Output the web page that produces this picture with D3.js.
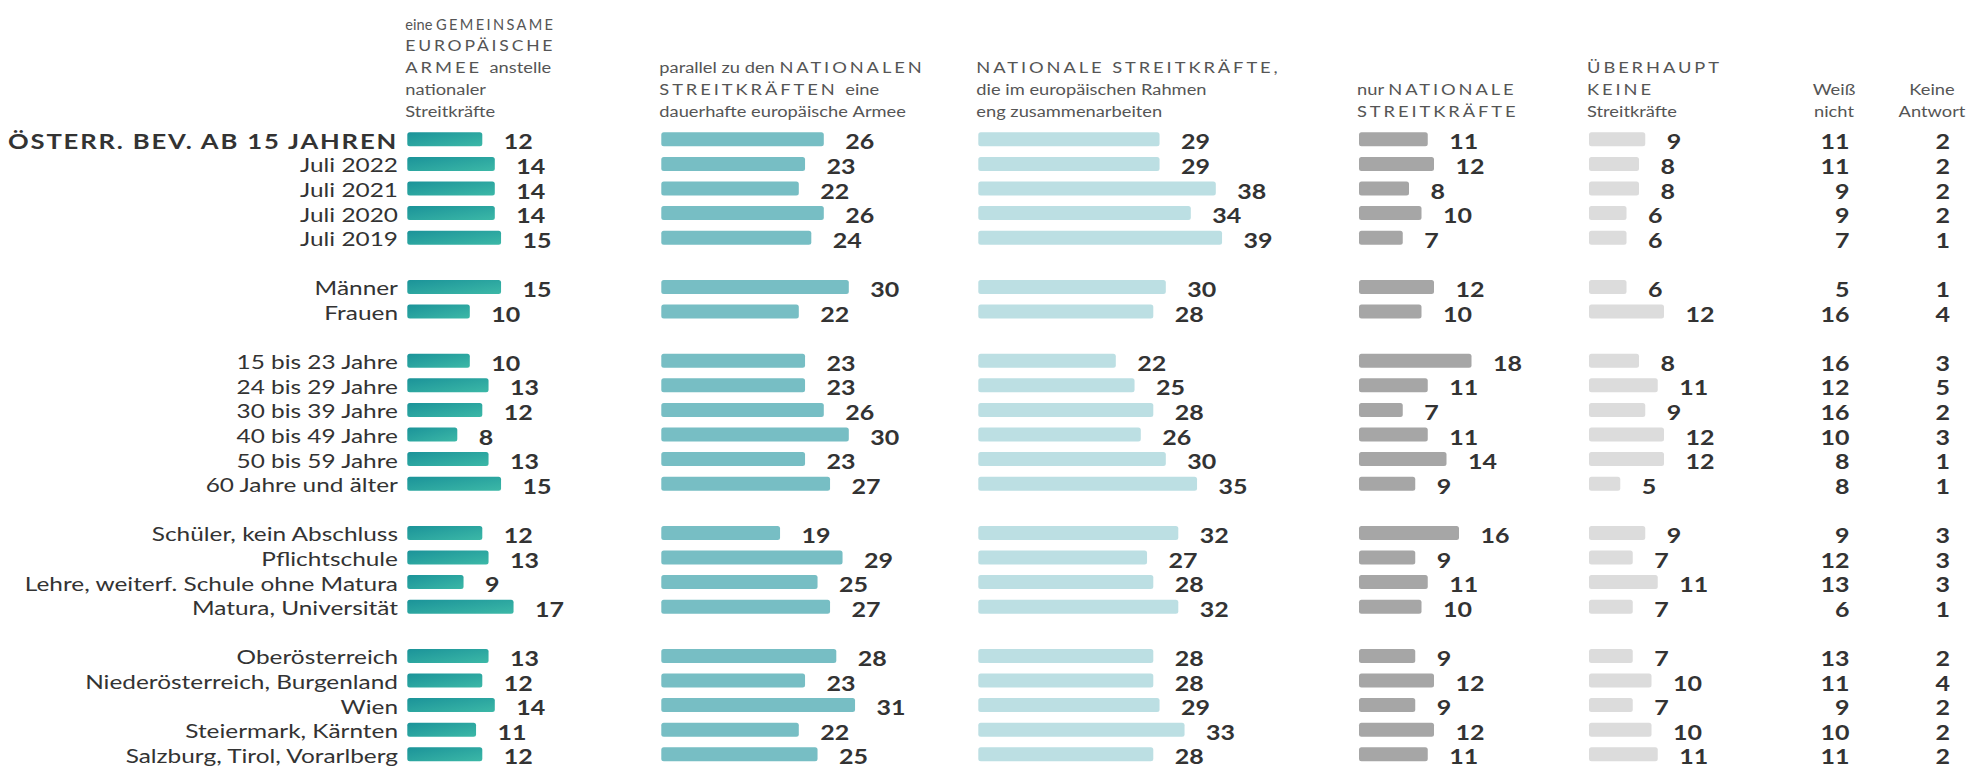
<!DOCTYPE html>
<html>
<head>
<meta charset="utf-8">
<script src="https://cdn.jsdelivr.net/npm/d3@7/dist/d3.min.js"></script>
<style>
    html, body { margin: 0; padding: 0; background: #fff; }
    svg { display: block; font-family: Lato, 'Open Sans', sans-serif; }
</style>
</head>
<body>
<div id="chart"></div>
<script>
var categories = [
    'ÖSTERR. BEV. AB 15 JAHREN', 'Juli 2022', 'Juli 2021', 'Juli 2020', 'Juli 2019',
    'Männer', 'Frauen',
    '15 bis 23 Jahre', '24 bis 29 Jahre', '30 bis 39 Jahre', '40 bis 49 Jahre', '50 bis 59 Jahre', '60 Jahre und älter',
    'Schüler, kein Abschluss', 'Pflichtschule', 'Lehre, weiterf. Schule ohne Matura', 'Matura, Universität',
    'Oberösterreich', 'Niederösterreich, Burgenland', 'Wien', 'Steiermark, Kärnten', 'Salzburg, Tirol, Vorarlberg'
];
// index of the first row of each new block
var groupStarts = [5, 7, 13, 17];

var gemeinsam    = [12, 14, 14, 14, 15, 15, 10, 10, 13, 12, 8, 13, 15, 12, 13, 9, 17, 13, 12, 14, 11, 12];
var parallel     = [26, 23, 22, 26, 24, 30, 22, 23, 23, 26, 30, 23, 27, 19, 29, 25, 27, 28, 23, 31, 22, 25];
var kooperation  = [29, 29, 38, 34, 39, 30, 28, 22, 25, 28, 26, 30, 35, 32, 27, 28, 32, 28, 28, 29, 33, 28];
var nurNational  = [11, 12, 8, 10, 7, 12, 10, 18, 11, 7, 11, 14, 9, 16, 9, 11, 10, 9, 12, 9, 12, 11];
var keine        = [9, 8, 8, 6, 6, 6, 12, 8, 11, 9, 12, 12, 5, 9, 7, 11, 7, 7, 10, 7, 10, 11];
var weissNicht   = [11, 11, 9, 9, 7, 5, 16, 16, 12, 16, 10, 8, 8, 9, 12, 13, 6, 13, 11, 9, 10, 11];
var keineAntwort = [2, 2, 2, 2, 1, 1, 4, 3, 5, 2, 3, 1, 1, 3, 3, 3, 1, 2, 4, 2, 2, 2];

var headerGemeinsam   = ['eine GEMEINSAME', 'EUROPÄISCHE', 'ARMEE anstelle', 'nationaler', 'Streitkräfte'];
var headerParallel    = ['parallel zu den NATIONALEN', 'STREITKRÄFTEN eine', 'dauerhafte europäische Armee'];
var headerKooperation = ['NATIONALE STREITKRÄFTE,', 'die im europäischen Rahmen', 'eng zusammenarbeiten'];
var headerNurNational = ['nur NATIONALE', 'STREITKRÄFTE'];
var headerKeine       = ['ÜBERHAUPT', 'KEINE', 'Streitkräfte'];
var headerWeiss       = ['Weiß', 'nicht'];
var headerAntwort     = ['Keine', 'Antwort'];

var width = 1970, height = 766;
var SX = 1.22;          // the original's lettering is stretched sideways
var textColor = '#333';
var headColor = '#555';

var svg = d3.select('#chart').append('svg')
    .attr('width', width)
    .attr('height', height);

var defs = svg.append('defs');
var grad = defs.append('linearGradient')
    .attr('id', 'teal')
    .attr('x1', '0').attr('y1', '0').attr('x2', '1').attr('y2', '1');
grad.append('stop').attr('offset', '0%').attr('stop-color', '#1b9399');
grad.append('stop').attr('offset', '100%').attr('stop-color', '#3cb8a7');

// row slots with an empty slot between blocks
var slots = categories.map(function (c, i) {
    return i + groupStarts.filter(function (g) { return g <= i; }).length;
});

var y = d3.scaleBand()
    .domain(d3.range(categories.length + groupStarts.length))
    .range([127, 766.6]);

var x = d3.scaleLinear()
    .domain([0, 40])
    .range([0, 250]);

var barH = 14;
var rowY = function (i) { return y(slots[i]) + y.bandwidth() / 2; };

function place(sel, px, py, k) {
    return sel.attr('transform', 'translate(' + px + ',' + py + ') scale(' + (SX * (k || 1)) + ',1)');
}

// header lines that must stay inside a narrow box get squeezed sideways
var fitted = [];
function applyFit() {
    fitted.forEach(function (f) {
        var sel = d3.select(f.node);
        place(sel, f.px, f.py, 1);
        var w = f.node.getBoundingClientRect().width;
        if (w > f.maxW) place(sel, f.px, f.py, f.maxW / w);
    });
}

// header lines, capital words get letter spacing
function header(lines, px, anchor, maxW) {
    var g = svg.append('g');
    var base = 116.5, lh = 21.7;
    lines.forEach(function (line, li) {
        var py = base - (lines.length - 1 - li) * lh;
        var t = place(g.append('text'), px, py)
            .attr('text-anchor', anchor || 'start')
            .style('font-size', '15px')
            .style('fill', headColor);
        var words = line.split(' ');
        words.forEach(function (w, wi) {
            var caps = w.length > 1 && /^[A-ZÄÖÜ,]+$/.test(w);
            var last = wi === words.length - 1;
            t.append('tspan')
                .text(w + (last ? '' : ' '))
                .style('letter-spacing', caps ? '2.4px' : '0px');
        });
        if (maxW) fitted.push({ node: t.node(), px: px, py: py, maxW: maxW });
    });
}

var columns = [
    { values: gemeinsam,   x0: 407.3,  fill: 'url(#teal)', head: headerGemeinsam, headW: 150 },
    { values: parallel,    x0: 661.3,  fill: '#77bec4',    head: headerParallel },
    { values: kooperation, x0: 978.3,  fill: '#bcdfe3',    head: headerKooperation },
    { values: nurNational, x0: 1359,   fill: '#a6a6a6',    head: headerNurNational },
    { values: keine,       x0: 1589,   fill: '#dcdcdc',    head: headerKeine }
];

columns.forEach(function (col) {
    header(col.head, col.x0 - 2, 'start', col.headW);

    var g = svg.append('g');
    g.selectAll('rect')
        .data(col.values)
        .enter().append('rect')
        .attr('x', col.x0)
        .attr('y', function (d, i) { return rowY(i) - barH / 2; })
        .attr('width', function (d) { return x(d); })
        .attr('height', barH)
        .attr('rx', 2.5)
        .style('fill', col.fill);

    g.selectAll('text')
        .data(col.values)
        .enter().append('text')
        .each(function (d, i) { place(d3.select(this), col.x0 + x(d) + 21.5, rowY(i) + 10); })
        .text(function (d) { return d; })
        .style('font-size', '20.5px')
        .style('font-weight', '700')
        .style('fill', textColor);
});

// the two plain number columns
[[weissNicht, 1849.5, 1834, headerWeiss], [keineAntwort, 1950, 1932, headerAntwort]].forEach(function (c) {
    header(c[3], c[2], 'middle');
    svg.append('g').selectAll('text')
        .data(c[0])
        .enter().append('text')
        .each(function (d, i) { place(d3.select(this), c[1], rowY(i) + 10); })
        .attr('text-anchor', 'end')
        .text(function (d) { return d; })
        .style('font-size', '20.5px')
        .style('font-weight', '700')
        .style('fill', textColor);
});

// row labels
svg.append('g').selectAll('text')
    .data(categories)
    .enter().append('text')
    .each(function (d, i) { place(d3.select(this), 398, rowY(i) + (i === 0 ? 9.5 : 8.5)); })
    .attr('text-anchor', 'end')
    .text(function (d) { return d; })
    .style('font-size', function (d, i) { return i === 0 ? '21px' : '20px'; })
    .style('font-weight', function (d, i) { return i === 0 ? '700' : '400'; })
    .style('letter-spacing', function (d, i) { return i === 0 ? '1.5px' : '0px'; })
    .style('fill', textColor);

applyFit();
if (document.fonts && document.fonts.ready) document.fonts.ready.then(applyFit);
</script>
</body>
</html>
